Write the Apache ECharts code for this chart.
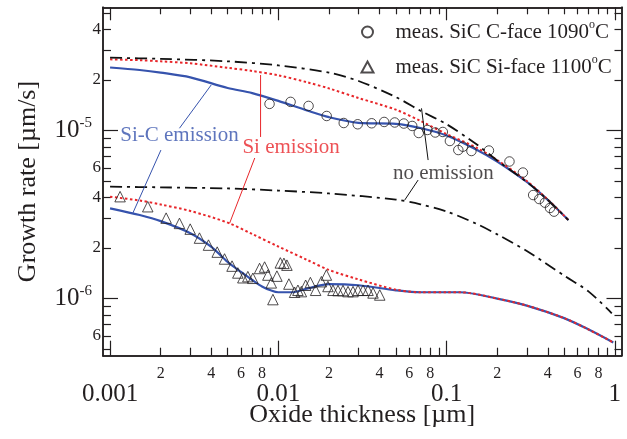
<!DOCTYPE html>
<html>
<head>
<meta charset="utf-8">
<script src="https://cdn.jsdelivr.net/npm/echarts@6/dist/echarts.min.js"></script>
<style>
html,body{margin:0;padding:0;background:#fff;}
#chart{width:627px;height:439px;}
</style>
</head>
<body>
<div id="chart"></div>
<script>
// ---------------- data (x: oxide thickness in µm, y: growth rate in µm/s) ----------------
const cFaceX = [0.00887,0.01183,0.01513,0.01939,0.02449,0.02965,0.03589,0.04258,0.04919,0.05572,0.06251,0.06839,0.07691,0.0857,0.09506,0.1047,0.1175,0.125,0.1406,0.1786,0.2366,0.2844,0.3273,0.3556,0.3846,0.4121,0.4355];
const cFaceY = [1.44e-5,1.48e-5,1.40e-5,1.22e-5,1.108e-5,1.089e-5,1.104e-5,1.124e-5,1.116e-5,1.10e-5,1.064e-5,9.66e-6,1.007e-5,9.73e-6,9.80e-6,8.66e-6,7.65e-6,8.01e-6,7.55e-6,7.60e-6,6.54e-6,5.62e-6,4.13e-6,3.91e-6,3.72e-6,3.46e-6,3.29e-6];

const siFaceX = [0.001147,0.001675,0.002154,0.002585,0.002994,0.0034,0.003846,0.004334,0.004791,0.005309,0.005746,0.006156,0.006592,0.007062,0.007739,0.00829,0.008672,0.009085,0.009289,0.009811,0.01028,0.0108,0.01125,0.01156,0.0125,0.01308,0.01371,0.01454,0.01551,0.01667,0.01803,0.01931,0.01973,0.02113,0.02264,0.02424,0.02596,0.0278,0.02977,0.03189,0.03414,0.03656,0.04009];
const siFaceY = [4.04e-6,3.52e-6,3.01e-6,2.80e-6,2.59e-6,2.29e-6,2.08e-6,1.89e-6,1.72e-6,1.56e-6,1.42e-6,1.33e-6,1.35e-6,1.32e-6,1.51e-6,1.54e-6,1.38e-6,1.24e-6,9.86e-7,1.36e-6,1.63e-6,1.62e-6,1.58e-6,1.22e-6,1.09e-6,1.12e-6,1.10e-6,1.20e-6,1.245e-6,1.12e-6,1.26e-6,1.38e-6,1.18e-6,1.12e-6,1.116e-6,1.116e-6,1.10e-6,1.10e-6,1.12e-6,1.12e-6,1.12e-6,1.08e-6,1.05e-6];

// C-face model curves
const upperX = [0.001,0.0015,0.002,0.003,0.005,0.007,0.01,0.015,0.02,0.03,0.05,0.07,0.1,0.15,0.2,0.3,0.4,0.53];
const upperSiCY = [2.37e-5,2.29e-5,2.21e-5,2.07e-5,1.79e-5,1.67e-5,1.50e-5,1.31e-5,1.20e-5,1.11e-5,1.096e-5,1.035e-5,9.34e-6,7.71e-6,6.54e-6,4.94e-6,3.86e-6,2.93e-6];
const upperSiY  = [2.65e-5,2.62e-5,2.58e-5,2.51e-5,2.36e-5,2.26e-5,2.13e-5,1.93e-5,1.78e-5,1.56e-5,1.33e-5,1.14e-5,9.53e-6,7.92e-6,6.67e-6,5.00e-6,3.88e-6,2.93e-6];
const upperNoX  = [0.001,0.002,0.005,0.01,0.02,0.03,0.05,0.07,0.1,0.15,0.2,0.3,0.4,0.53];
const upperNoY  = [2.71e-5,2.67e-5,2.58e-5,2.44e-5,2.21e-5,1.97e-5,1.58e-5,1.31e-5,1.09e-5,8.31e-6,6.63e-6,4.94e-6,3.86e-6,2.93e-6];

// Si-face model curves
const lowerSiCX = [0.001,0.0015,0.002,0.003,0.004,0.005,0.006,0.007,0.008,0.009,0.01,0.012,0.015,0.02,0.03,0.05,0.07,0.1,0.12,0.2,0.3,0.5,0.7,0.98];
const lowerSiCY = [3.44e-6,3.14e-6,2.89e-6,2.45e-6,2.03e-6,1.65e-6,1.44e-6,1.29e-6,1.18e-6,1.12e-6,1.09e-6,1.09e-6,1.15e-6,1.22e-6,1.20e-6,1.12e-6,1.09e-6,1.09e-6,1.09e-6,1.0e-6,9.08e-7,7.65e-7,6.54e-7,5.48e-7];
const lowerSiX  = [0.001,0.0015,0.002,0.003,0.005,0.007,0.01,0.015,0.02,0.03,0.05,0.07,0.1,0.12,0.2,0.3,0.5,0.7,0.98];
const lowerSiY  = [4.04e-6,3.83e-6,3.63e-6,3.32e-6,2.83e-6,2.42e-6,2.04e-6,1.69e-6,1.48e-6,1.30e-6,1.13e-6,1.09e-6,1.089e-6,1.09e-6,1.0e-6,9.08e-7,7.65e-7,6.54e-7,5.48e-7];
const lowerNoX  = [0.001,0.002,0.005,0.01,0.02,0.05,0.07,0.1,0.15,0.2,0.3,0.5,0.7,0.96];
const lowerNoY  = [4.63e-6,4.59e-6,4.52e-6,4.39e-6,4.22e-6,3.88e-6,3.64e-6,3.30e-6,2.79e-6,2.41e-6,1.92e-6,1.37e-6,1.10e-6,8.17e-7];

// annotation labels and leader lines (data coordinates)
const annoTexts  = ['Si-C emission','Si emission','no emission'];
const annoX      = [0.002585,0.01192,0.09572];
const annoY      = [9.28e-6,7.87e-6,5.56e-6];
const leaderSiC  = [[[0.003992,1.866e-5],[0.002585,1.031e-5]],[[0.002006,7.65e-6],[0.001363,3.21e-6]]];
const leaderSi   = [[[0.007845,2.139e-5],[0.007845,9.15e-6]],[[0.007246,6.86e-6],[0.00513,2.80e-6]]];
const leaderNo   = [[[0.0710,1.355e-5],[0.07771,6.67e-6]],[[0.06776,5.07e-6],[0.05646,3.86e-6]]];

// tick labels
const xMajorTicks = [0.001,0.01,0.1,1];
const xMajorLabels = ['0.001','0.01','0.1','1'];
const xMinorDigits = [2,3,4,5,6,7,8,9];
const xMinorLabelDigits = [2,4,6,8];
const yMajorTicks = [1e-6,1e-5];
const yMinorTicks = [5e-7,6e-7,7e-7,8e-7,9e-7,2e-6,3e-6,4e-6,5e-6,6e-6,7e-6,8e-6,9e-6,2e-5,3e-5,4e-5,5e-5];
const yMinorLabelTicks = [6e-7,2e-6,4e-6,6e-6,2e-5,4e-5];

const legendNames = ['meas. SiC C-face 1090°C','meas. SiC Si-face 1100°C'];
const xTitle = 'Oxide thickness [µm]';
const yTitle = 'Growth rate [µm/s]';

// ---------------- chart ----------------
const L = Math.log10;
const FONT = '"Liberation Serif","DejaVu Serif",serif';
const INK = '#231f20';
const BLUE = '#3653ad';
const RED = '#e8262a';
const XMIN = -3.042, XMAX = 0.040, YMIN = -6.340, YMAX = -4.267;

const xMinorTicks = [];
[-3,-2,-1].forEach(n => xMinorDigits.forEach(k => xMinorTicks.push(k*Math.pow(10,n))));
const xMinorLabelTicks = [];
[-3,-2,-1].forEach(n => xMinorLabelDigits.forEach(k => xMinorLabelTicks.push(k*Math.pow(10,n))));

const pairs = (xs, ys) => xs.map((x,i) => [L(x), L(ys[i])]);
const lg = arr => arr.map(L);
const digit = v => String(Math.round(Math.pow(10, v - Math.floor(v + 1e-9))));

function axis(kind, pos, ticks, len, labelVals, fmt, fs, margin, extra) {
  const a = {
    type: 'value', position: pos,
    min: kind === 'x' ? XMIN : YMIN, max: kind === 'x' ? XMAX : YMAX,
    axisLine: {show: true, onZero: false, lineStyle: {color: INK, width: 1.5}},
    axisTick: {show: true, inside: true, length: len, customValues: lg(ticks), lineStyle: {color: INK, width: 1.2}},
    axisLabel: labelVals ? {show: true, customValues: lg(labelVals), formatter: fmt, fontSize: fs, margin: margin, fontFamily: FONT, color: INK} : {show: false},
    splitLine: {show: false}
  };
  return Object.assign(a, extra || {});
}

const xMajorFmt = v => xMajorLabels[xMajorTicks.findIndex(t => Math.abs(L(t) - v) < 1e-6)];
const yMajorFmt = v => '{a|10}{b|' + Math.round(v) + '}';

const option = {
  animation: false,
  backgroundColor: '#fff',
  grid: {left: 103, right: 5.5, top: 7.3, bottom: 83.3},
  xAxis: [
    axis('x','bottom', xMajorTicks, 15, xMajorTicks, xMajorFmt, 25, 26,
      {name: xTitle, nameLocation: 'middle', nameGap: 46, nameMoveOverlap: false,
       nameTextStyle: {fontSize: 26, fontFamily: FONT, color: INK}}),
    axis('x','bottom', xMinorTicks, 8, xMinorLabelTicks, digit, 16, 10),
    axis('x','top', xMajorTicks, 13, null),
    axis('x','top', xMinorTicks, 7, null)
  ],
  yAxis: [
    axis('y','left', yMajorTicks, 15, yMajorTicks, yMajorFmt, 25, 11,
      {name: yTitle, nameLocation: 'middle', nameGap: 62, nameTextStyle: {fontSize: 26, fontFamily: FONT, color: INK}}),
    axis('y','left', yMinorTicks, 8, yMinorLabelTicks, digit, 17, 2),
    axis('y','right', yMajorTicks, 15, null),
    axis('y','right', yMinorTicks, 7, null)
  ],
  legend: {
    orient: 'vertical', left: 355.5, top: 14, padding: 5,
    itemWidth: 12, itemHeight: 11, itemGap: 11.5,
    data: [
      {name: legendNames[0], icon: 'circle'},
      {name: legendNames[1], icon: 'triangle'}
    ],
    formatter: n => '{sp|}' + n.replace('°', '{s|o}'),
    textStyle: {fontSize: 21, fontFamily: FONT, color: INK,
      rich: {
        sp: {width: 17, fontSize: 21},
        s: {fontSize: 12, fontFamily: FONT, color: INK, verticalAlign: 'top', padding: [0,0,14,0]}
      }},
    selectedMode: false
  },
  series: []
};

// rich styles for 10^n labels
option.yAxis[0].axisLabel.rich = {
  a: {fontSize: 25, fontFamily: FONT, color: INK},
  b: {fontSize: 15, fontFamily: FONT, color: INK, verticalAlign: 'top', padding: [0,0,14,0]}
};

function line(data, color, width, type, z) {
  return {type: 'line', data: data, showSymbol: false, symbol: 'none', smooth: 0.3, silent: true, z: z,
    lineStyle: {color: color, width: width, type: type}};
}
const DASHDOT = [12,5,3,5];
const DOT = [2.5,2.5];

option.series.push(
  line(pairs(upperX, upperSiCY), BLUE, 2.2, 'solid', 2),
  line(pairs(lowerSiCX, lowerSiCY), BLUE, 2.2, 'solid', 2),
  line(pairs(upperX, upperSiY), RED, 2, DOT, 3),
  line(pairs(lowerSiX, lowerSiY), RED, 2, DOT, 3),
  line(pairs(upperNoX, upperNoY), '#111', 1.8, DASHDOT, 3),
  line(pairs(lowerNoX, lowerNoY), '#111', 1.8, DASHDOT, 3)
);
function leader(seg, color) {
  return {type: 'line', data: seg.map(p => [L(p[0]), L(p[1])]), symbol: 'none', silent: true, z: 4,
    lineStyle: {color: color, width: 1}};
}
leaderSiC.forEach(s => option.series.push(leader(s, BLUE)));
leaderSi.forEach(s => option.series.push(leader(s, RED)));
leaderNo.forEach(s => option.series.push(leader(s, '#111')));

option.series.push({
  type: 'scatter', name: legendNames[0], data: pairs(cFaceX, cFaceY), symbol: 'circle', symbolSize: 9.5, z: 5,
  itemStyle: {color: 'rgba(255,255,255,0)', borderColor: INK, borderWidth: 1}
}, {
  type: 'scatter', name: legendNames[1], data: pairs(siFaceX, siFaceY), symbol: 'triangle', symbolSize: 10.5, z: 5,
  itemStyle: {color: 'rgba(255,255,255,0)', borderColor: INK, borderWidth: 1}
});

const annoColors = [BLUE, RED, INK];
option.series.push({
  type: 'scatter', silent: true, z: 6, symbolSize: 0,
  data: annoTexts.map((t,i) => ({value: [L(annoX[i]), L(annoY[i])], name: t,
    label: {show: true, position: 'inside', formatter: t, color: annoColors[i], fontSize: 21, fontFamily: FONT}}))
});

const chart = echarts.init(document.getElementById('chart'), null, {renderer: 'canvas'});
chart.setOption(option);
</script>
</body>
</html>
